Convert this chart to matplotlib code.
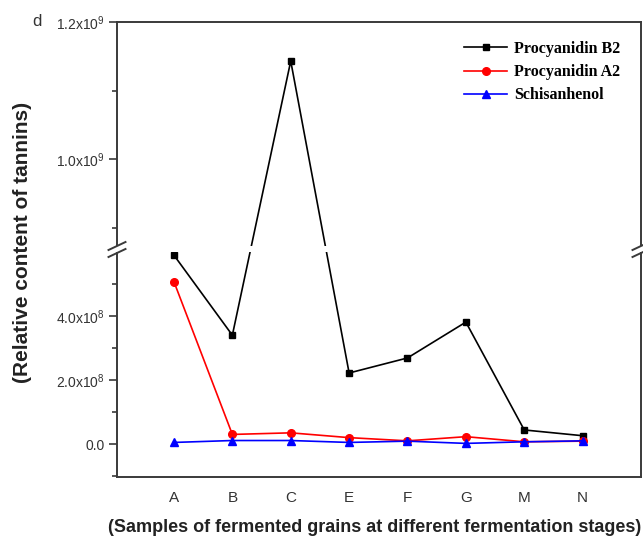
import matplotlib
matplotlib.use('Agg')
import matplotlib.pyplot as plt
from matplotlib.lines import Line2D
from matplotlib.patches import Rectangle
import numpy as np

samples = ['A', 'B', 'C', 'E', 'F', 'G', 'M', 'N']
procyanidin_b2 = [5.9e8, 3.4e8, 1.143e9, 2.22e8, 2.69e8, 3.81e8, 0.44e8, 0.26e8]
procyanidin_a2 = [5.07e8, 0.30e8, 0.35e8, 0.20e8, 0.10e8, 0.23e8, 0.07e8, 0.09e8]
schisanhenol = [0.05e8, 0.11e8, 0.11e8, 0.05e8, 0.09e8, 0.02e8, 0.07e8, 0.10e8]

y_ticks = [0, 2e8, 4e8, 1.0e9, 1.2e9]
y_labels = ['0.0', '2.0x10$^{8}$', '4.0x10$^{8}$', '1.0x10$^{9}$', '1.2x10$^{9}$']
y_minor = [-1e8, 1e8, 3e8, 5e8, 9e8, 1.1e9]

plt.rcParams['font.family'] = ['Liberation Sans', 'DejaVu Sans']
plt.rcParams['mathtext.default'] = 'regular'

W, H = 643, 543
fig = plt.figure(figsize=(W / 100, H / 100), dpi=100)

# broken y axis, drawn like Origin: piecewise linear scale, points joined on screen
LO, HI = 6.0e8, 8.73e8          # break range
S_LO, S_HI, GAP = 32.0, 68.5, 6.0  # px per 1e8 below / above the break


def fwd(v):
    v = np.asarray(v, dtype=float) / 1e8
    lo, hi = LO / 1e8, HI / 1e8
    top = lo * S_LO
    return np.where(v <= lo, v * S_LO,
                    np.where(v >= hi, top + GAP + (v - hi) * S_HI,
                             top + (v - lo) / (hi - lo) * GAP))


def inv(s):
    s = np.asarray(s, dtype=float)
    lo, hi = LO / 1e8, HI / 1e8
    top = lo * S_LO
    v = np.where(s <= top, s / S_LO,
                 np.where(s >= top + GAP, hi + (s - top - GAP) / S_HI,
                          lo + (s - top) / GAP * (hi - lo)))
    return v * 1e8


ax = fig.add_axes([117 / W, 1 - 477 / H, (641 - 117) / W, (477 - 22) / H])
ax.set_yscale('function', functions=(fwd, inv))

x = np.arange(len(samples))
spine_col = '#3a3a3a'
ax.plot(x, procyanidin_b2, color='black', marker='s', markersize=4.5, lw=1.2,
        label='Procyanidin B2')
ax.plot(x, procyanidin_a2, color='red', marker='o', markersize=5.5, lw=1.2,
        label='Procyanidin A2')
ax.plot(x, schisanhenol, color='blue', marker='^', markersize=5.5, lw=1.2,
        label='Schisanhenol')

ax.set_xlim(-0.976, 8.0)
ax.set_ylim(-1.03e8, 1.2e9)
ax.set_xticks(x, samples)
ax.set_yticks(y_ticks, y_labels)
ax.set_yticks(y_minor, minor=True)
for s in ax.spines.values():
    s.set_color(spine_col)
    s.set_linewidth(1.4)
ax.tick_params(axis='y', which='major', direction='out', length=6, width=1.2,
               color=spine_col, labelsize=10, labelcolor='#333333', pad=3)
ax.tick_params(axis='y', which='minor', direction='out', length=3.5, width=1.2,
               color=spine_col)
ax.tick_params(axis='x', length=0, labelsize=11, labelcolor='#333333', pad=10)

# white strip across the break, then the // marks on both spines
fig.add_artist(Rectangle((100 / W, 1 - 252 / H), 545 / W, 6 / H,
                         transform=fig.transFigure, facecolor='white',
                         edgecolor='none', zorder=5))
for xc in (117, 641):
    for yc in (246, 253):
        fig.add_artist(Line2D([(xc - 8.5) / W, (xc + 8.5) / W],
                              [1 - (yc + 4) / H, 1 - (yc - 4) / H],
                              transform=fig.transFigure, color=spine_col,
                              lw=1.4, zorder=6))

ax.legend(loc='upper left', bbox_to_anchor=(456 / W, 1 - 33 / H),
          bbox_transform=fig.transFigure, frameon=False, borderpad=0,
          handlelength=2.7, handletextpad=0.45, labelspacing=0.45,
          prop={'family': 'Liberation Serif', 'weight': 'bold', 'size': 11.5})

fig.text(23 / W, 1 - 242 / H, '(Relative content of tannins)', rotation=90,
         ha='center', va='center', fontsize=15, fontweight='bold', color='#222222')
fig.text(108 / W, 1 - 527 / H,
         '(Samples of fermented grains at different fermentation stages)',
         ha='left', va='center', fontsize=13, fontweight='bold', color='#222222')
fig.text(32 / W, 1 - 22 / H, 'd', ha='left', va='center', fontsize=12, color='#333333')

fig.savefig('out.png', dpi=100)
